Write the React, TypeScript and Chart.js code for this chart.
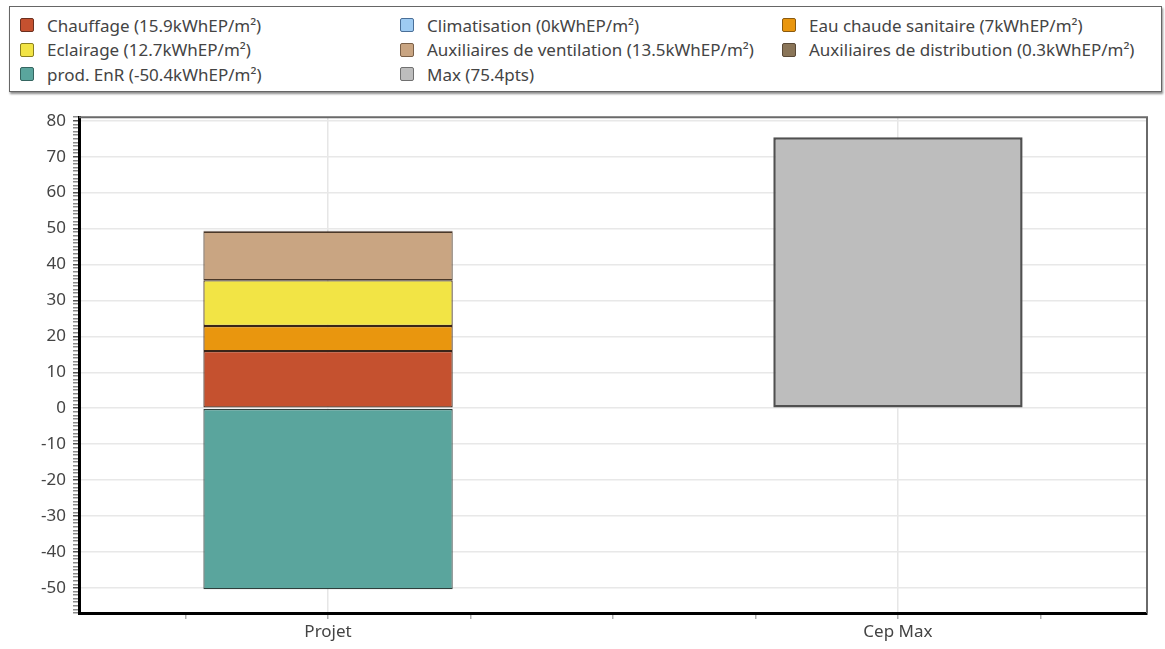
import React, { useEffect, useRef } from "react";
import { Chart, registerables } from "chart.js";

Chart.register(...registerables);

const categories = ["Projet", "Cep Max"];
const categoryPositions = [0, 1];

const seriesNames = [
  "Chauffage",
  "Climatisation",
  "Eau chaude sanitaire",
  "Eclairage",
  "Auxiliaires de ventilation",
  "Auxiliaires de distribution",
  "prod. EnR",
  "Max",
];
const seriesValues = [15.9, 0, 7, 12.7, 13.5, 0.3, -50.4, 75.4];
const seriesCategory = [0, 0, 0, 0, 0, 0, 0, 1];
const seriesUnits = ["kWhEP/m²", "kWhEP/m²", "kWhEP/m²", "kWhEP/m²", "kWhEP/m²", "kWhEP/m²", "kWhEP/m²", "pts"];
const seriesColors = ["#c5512f", "#9ecbf2", "#e9960e", "#f2e445", "#c9a582", "#8a7558", "#5aa59d", "#bdbdbd"];
const seriesBorders = ["#3a2418", "#3a5a80", "#3a2418", "#3a2418", "#4a3828", "#3a2418", "#2e3f3c", "#505050"];
const swatchBorders = ["#6b3020", "#4a6f98", "#8a5a10", "#8a8020", "#7a6048", "#5a4a38", "#356560", "#707070"];

const yTickLabels = [-50, -40, -30, -20, -10, 0, 10, 20, 30, 40, 50, 60, 70, 80];

const FONT = "'Noto Sans', sans-serif";

const legendColumns = [20, 400, 782];

export default function App() {
  const canvasRef = useRef<HTMLCanvasElement | null>(null);

  useEffect(() => {
    const canvas = canvasRef.current;
    if (!canvas) return;

    const frame = {
      id: "frame",
      beforeDatasetsDraw(chart: any) {
        const { ctx, chartArea } = chart;
        const { left, top, right, bottom } = chartArea;
        ctx.save();
        ctx.strokeStyle = "#6a6a6a";
        ctx.lineWidth = 2;
        ctx.beginPath();
        ctx.moveTo(left, top);
        ctx.lineTo(right, top);
        ctx.lineTo(right, bottom);
        ctx.stroke();
        ctx.restore();
      },
    };

    const datasets = seriesNames.map((name, i) => ({
      label: name,
      data: [{ x: categoryPositions[seriesCategory[i]], y: seriesValues[i] }],
      backgroundColor: seriesColors[i],
      borderColor: seriesBorders[i],
      borderWidth: seriesValues[i] === 0 ? 0 : i === 7 ? 2.5 : 1.2,
      borderSkipped: false as any,
      barPercentage: 1.75,
      categoryPercentage: 1,
    }));

    const chart = new Chart(canvas, {
      type: "bar",
      data: { datasets },
      plugins: [frame],
      options: {
        responsive: false,
        animation: false,
        layout: { padding: { left: 0, right: 18, top: 17, bottom: 0 } },
        plugins: {
          legend: { display: false },
          tooltip: { enabled: false },
        },
        scales: {
          x: {
            type: "linear",
            stacked: true,
            offset: false,
            min: -0.437,
            max: 1.437,
            afterFit(scale: any) {
              scale.height = 36;
            },
            ticks: {
              stepSize: 0.25,
              includeBounds: false,
              autoSkip: false,
              maxRotation: 0,
              padding: 3,
              color: "#444",
              font: { family: FONT, size: 17 },
              callback: (v: any) => {
                const idx = categoryPositions.indexOf(Number(v));
                return idx >= 0 ? categories[idx] : "";
              },
            },
            grid: {
              offset: false,
              color: (ctx: any) =>
                ctx.tick && categoryPositions.includes(ctx.tick.value) ? "#e6e6e6" : "rgba(0,0,0,0)",
              tickColor: "#b0b0b0",
              tickLength: 6,
              lineWidth: 1.5,
            },
            border: { color: "#000", width: 3 },
          },
          y: {
            stacked: true,
            min: -57,
            max: 81,
            afterFit(scale: any) {
              scale.width = 79;
            },
            ticks: {
              stepSize: 1,
              autoSkip: false,
              padding: 7,
              color: "#444",
              font: { family: FONT, size: 17 },
              callback: (v: any) => (yTickLabels.includes(Number(v)) ? String(v) : ""),
            },
            grid: {
              color: (ctx: any) =>
                ctx.tick && yTickLabels.includes(ctx.tick.value) ? "#e8e8e8" : "rgba(0,0,0,0)",
              tickColor: (ctx: any) =>
                ctx.tick && yTickLabels.includes(ctx.tick.value) ? "#555" : "#8a8a8a",
              tickLength: 6,
              lineWidth: 1.5,
            },
            border: { color: "#000", width: 3 },
          },
        },
      } as any,
    });

    return () => chart.destroy();
  }, []);

  const legendItems = seriesNames.map((name, i) => ({
    text: `${name} (${seriesValues[i]}${seriesUnits[i]})`,
    color: seriesColors[i],
    border: swatchBorders[i],
  }));

  return (
    <div style={{ position: "absolute", left: 0, top: 0, width: 1165, height: 649, background: "#fff", overflow: "hidden" }}>
      <div
        style={{
          position: "absolute",
          left: 9,
          top: 6,
          width: 1151,
          height: 84,
          border: "1.5px solid #666",
          boxShadow: "1px 2px 2px rgba(0,0,0,0.45)",
          background: "#fff",
        }}
      />
      {legendItems.map((item, i) => {
        const col = i % 3;
        const row = Math.floor(i / 3);
        const cy = 25 + row * 24.5;
        return (
          <div
            key={i}
            style={{
              position: "absolute",
              left: legendColumns[col],
              top: cy - 12,
              height: 24,
              display: "flex",
              alignItems: "center",
              whiteSpace: "nowrap",
              fontFamily: FONT,
              fontSize: 17,
              color: "#444",
            }}
          >
            <span
              style={{
                display: "inline-block",
                width: 12,
                height: 12,
                background: item.color,
                border: `1.5px solid ${item.border}`,
                borderRadius: 2,
                marginRight: 13,
              }}
            />
            <span>{item.text}</span>
          </div>
        );
      })}
      <canvas
        ref={canvasRef}
        width={1165}
        height={549}
        style={{ position: "absolute", left: 0, top: 100, width: 1165, height: 549 }}
      />
    </div>
  );
}
